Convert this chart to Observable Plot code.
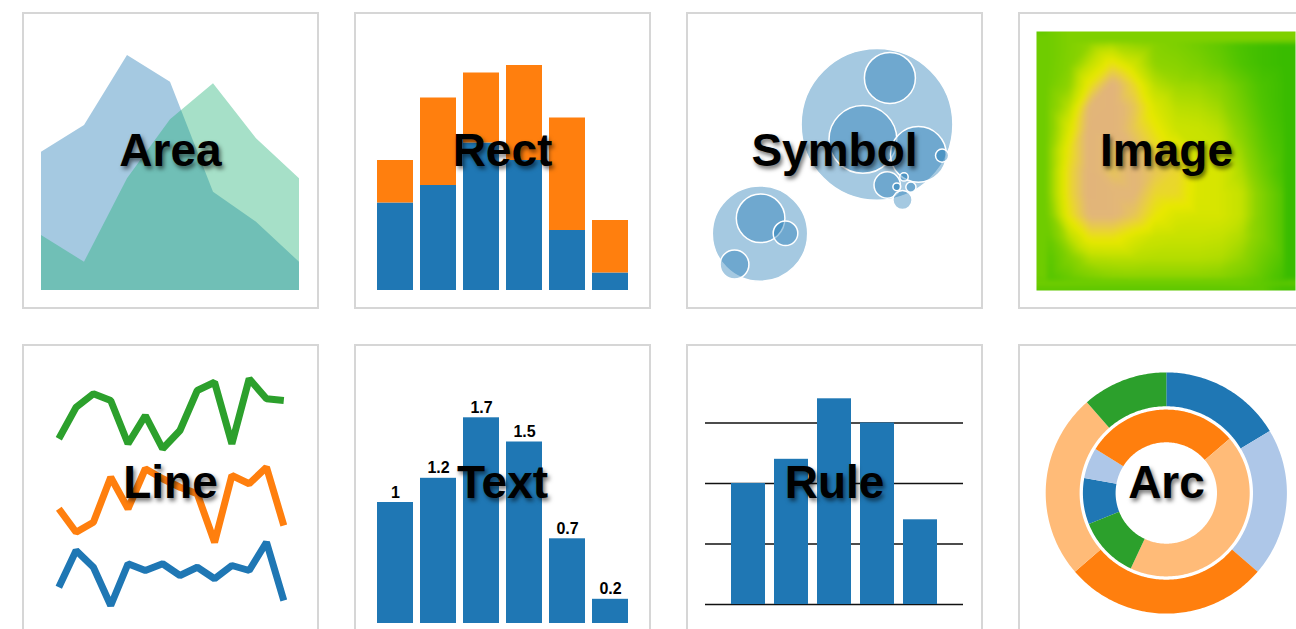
<!DOCTYPE html>
<html><head><meta charset="utf-8">
<script src="https://cdn.jsdelivr.net/npm/d3@7"></script>
<script src="https://cdn.jsdelivr.net/npm/@observablehq/plot@0.6"></script>
<style>
html,body{margin:0;padding:0;background:#fff;overflow:hidden;width:1296px;height:629px;}
#root{position:relative;width:1296px;height:629px;overflow:hidden;}
.box{position:absolute;width:297px;height:297px;box-sizing:border-box;border:2px solid #d6d6d6;}
.panel{position:absolute;width:297px;height:297px;}
.panel svg{display:block;max-width:none;background:transparent;}
.label{position:absolute;width:297px;text-align:center;font-family:"Liberation Sans",Arial,sans-serif;font-weight:bold;font-size:46px;line-height:46px;color:#000;text-shadow:2px 3px 4px rgba(0,0,0,0.55);white-space:nowrap;pointer-events:none;}
</style></head><body><div id="root"></div>
<script>
// ---------------- data ----------------
const panelLabels = ["Area", "Rect", "Symbol", "Image", "Line", "Text", "Rule", "Arc"];

const areaBlue  = [55.3, 66, 94, 83.3, 39.3, 27.3, 11.3];
const areaGreen = [22, 11.3, 44.7, 68.3, 82.7, 60.7, 44.7];

const rectSeries = ["first", "second"];
const rectBlue   = [35, 42, 59, 52, 24, 7];
const rectOrange = [17, 35, 28, 38, 45, 21];

const symbolX = [63.5, 24.5, 67.8, 58.8, 77.3, 85.2, 66.9, 72, 72.5, 74.8, 70.1, 24.7, 33, 16];
const symbolY = [62.7, 26.3, 78.2, 57.7, 52.7, 52.3, 42.5, 37.5, 45.2, 41.8, 41.9, 31.4, 26.4, 16];
const symbolSize = [25.3, 15.9, 8.5, 11.3, 9.3, 2.2, 4.4, 3.2, 1.4, 1.7, 1.3, 8.1, 4.1, 4.8];

const imageGrid = [
  [3, 3.5, 4, 4.3, 4, 3.7, 3.4, 3, 2.5, 1.8, 1.2, 0.8],
  [3, 3.6, 5, 6.3, 5.3, 4, 3.8, 3.4, 2.8, 2, 1.2, 0.8],
  [3.1, 4, 6.3, 8, 6.6, 4.8, 4.3, 4.2, 3.8, 2.8, 1.8, 1],
  [3.3, 4.8, 7.8, 8, 7.2, 5.6, 4.8, 4.7, 4.3, 3.2, 2, 1],
  [3.3, 5.6, 8, 8, 7.1, 6.1, 5.2, 5.1, 4.8, 3.7, 2.3, 1.2],
  [3.6, 6.2, 8, 7.2, 7.6, 6.6, 6.1, 5.2, 5.1, 4.2, 2.6, 1.5],
  [3.6, 6.5, 8, 7.2, 7.7, 7.1, 6.6, 5.6, 5.5, 4.6, 3, 1.5],
  [3.6, 6.5, 8, 7.8, 7.7, 6.6, 6.5, 5.6, 5.5, 5, 3.5, 2],
  [3.2, 6.2, 7.8, 7.8, 7.2, 6.1, 5.6, 5.5, 5.5, 5, 3.5, 2],
  [2.7, 4.8, 6.3, 6.3, 5.7, 5.2, 5.1, 5.1, 5, 4.6, 3.5, 2],
  [2.2, 3.6, 4.7, 4.8, 4.8, 4.7, 4.7, 4.7, 4.6, 4.1, 3, 2],
  [2, 2.7, 3.3, 3.7, 3.8, 3.8, 3.8, 3.8, 3.7, 3.2, 2.5, 1.5]
];
const imageColorStops = [0, 2, 4, 5, 6, 6.8, 7.6, 8];
const imageColors = ["#2ab600", "#4fc400", "#8fd400", "#c4e100", "#e8e800", "#e9d03e", "#e3b877", "#e2b47a"];

const lineGreen  = [72.7, 85.3, 90.7, 88, 70.7, 82, 68.7, 76, 92, 95.3, 70.7, 96.7, 88.7, 88];
const lineOrange = [44.7, 35.3, 39.3, 57.3, 44.7, 60.7, 56.7, 53.3, 50.7, 31.3, 58, 54.7, 61.3, 38];
const lineBlue   = [13.3, 28, 21.3, 6, 22.7, 20, 22.7, 18, 21.3, 16.7, 22, 20, 31.3, 8];

const textValues = [1, 1.2, 1.7, 1.5, 0.7, 0.2];

const ruleBars  = [1, 1.2, 1.7, 1.5, 0.7];
const ruleTicks = [0, 0.5, 1, 1.5];

const arcCats   = ["a", "b", "c", "d", "e"];
const arcColors = ["#1f77b4", "#aec7e8", "#ff7f0e", "#ffbb78", "#2ca02c"];
const arcOuter  = [33, 40, 55, 50, 23];
const arcInner  = [6, 4, 20, 29, 8];

// ---------------- layout ----------------
const cols = [22, 354, 686, 1018];
const rows = [12, 344];
const W = 297, H = 297;
const root = document.getElementById("root");
const font = "Liberation Sans, Arial, sans-serif";

function place(svg, idx) {
  const c = idx % 4, r = Math.floor(idx / 4);
  const box = document.createElement("div");
  box.className = "box";
  box.style.left = cols[c] + "px"; box.style.top = rows[r] + "px";
  root.appendChild(box);
  const p = document.createElement("div");
  p.className = "panel";
  p.style.left = cols[c] + "px"; p.style.top = rows[r] + "px";
  p.appendChild(svg);
  root.appendChild(p);
  const lab = document.createElement("div");
  lab.className = "label";
  lab.style.left = cols[c] + "px"; lab.style.top = (rows[r] + 115) + "px";
  lab.textContent = panelLabels[idx];
  root.appendChild(lab);
}
const base = {width: W, height: H, margin: 0, style: {background: "transparent"}};

// Area
place(Plot.plot({...base,
  x: {domain: [0, 6], range: [19, 277], axis: null},
  y: {domain: [0, 100], range: [278, 28], axis: null},
  marks: [
    Plot.areaY(areaBlue, {x: (d, i) => i, y: d => d, fill: "#1f77b4", fillOpacity: 0.4}),
    Plot.areaY(areaGreen, {x: (d, i) => i, y: d => d, fill: "#20b276", fillOpacity: 0.4})
  ]}), 0);

// Rect
const rectData = [
  ...rectBlue.map((v, i) => ({i, s: rectSeries[0], v})),
  ...rectOrange.map((v, i) => ({i, s: rectSeries[1], v}))
];
place(Plot.plot({...base,
  x: {type: "band", domain: d3.range(rectBlue.length), range: [22, 274], paddingInner: 0.1667, paddingOuter: 0, axis: null},
  y: {domain: [0, 100], range: [278, 28], axis: null},
  color: {type: "ordinal", domain: rectSeries, range: ["#1f77b4", "#ff7f0e"]},
  marks: [Plot.barY(rectData, {x: "i", y: "v", fill: "s"})]
}), 1);

// Symbol
place(Plot.plot({...base,
  x: {domain: [0, 100], range: [0, 300], axis: null},
  y: {domain: [0, 100], range: [300, 0], axis: null},
  r: {type: "linear", domain: [0, 100], range: [0, 300]},
  marks: [Plot.dot(symbolX, {x: d => d, y: (d, i) => symbolY[i], r: (d, i) => symbolSize[i],
    fill: "#1f77b4", fillOpacity: 0.4, stroke: "white", strokeWidth: 1.5})]
}), 2);

// Image
const imagePts = [];
imageGrid.forEach((row, j) => row.forEach((v, i) => imagePts.push({x: i + 0.5, y: j + 0.5, v})));
place(Plot.plot({width: W, height: H, marginLeft: 18, marginTop: 19, marginRight: 20, marginBottom: 19,
  style: {background: "transparent"},
  x: {domain: [0, 12], axis: null},
  y: {domain: [0, 12], reverse: true, axis: null},
  color: {type: "linear", domain: imageColorStops, range: imageColors, clamp: true},
  marks: [Plot.raster(imagePts, {x: "x", y: "y", fill: "v", x1: 0, x2: 12, y1: 0, y2: 12,
    interpolate: "barycentric", blur: 2})]
}), 3);

// Line
const lineOpts = {x: (d, i) => i, y: d => d, strokeWidth: 7, strokeLinejoin: "miter", strokeLinecap: "butt"};
place(Plot.plot({...base,
  x: {domain: [0, 13], range: [36.3, 261.3], axis: null},
  y: {domain: [0, 100], range: [276, 26], axis: null},
  marks: [
    Plot.lineY(lineGreen, {...lineOpts, stroke: "#2ca02c"}),
    Plot.lineY(lineOrange, {...lineOpts, stroke: "#ff7f0e"}),
    Plot.lineY(lineBlue, {...lineOpts, stroke: "#1f77b4"})
  ]}), 4);

// Text
place(Plot.plot({...base,
  x: {type: "band", domain: d3.range(textValues.length), range: [22, 274], paddingInner: 0.1667, paddingOuter: 0, axis: null},
  y: {domain: [0, 2], range: [279, 37], axis: null},
  marks: [
    Plot.barY(textValues, {x: (d, i) => i, y: d => d, fill: "#1f77b4"}),
    Plot.text(textValues, {x: (d, i) => i, y: d => d, text: d => String(d), dy: -5, lineAnchor: "bottom",
      fontSize: 16, fontWeight: "bold", fontFamily: font, fill: "black", stroke: "white", strokeWidth: 3})
  ]}), 5);

// Rule
place(Plot.plot({width: W, height: H, marginLeft: 19, marginRight: 20, marginTop: 0, marginBottom: 0,
  style: {background: "transparent"},
  x: {type: "band", domain: d3.range(ruleBars.length), range: [44, 251], paddingInner: 0.214, paddingOuter: 0, axis: null},
  y: {domain: [0, 2], range: [260, 18], axis: null},
  marks: [
    Plot.ruleY(ruleTicks, {y: d => d, stroke: "#111", strokeWidth: 1.5}),
    Plot.barY(ruleBars, {x: (d, i) => i, y: d => d, fill: "#1f77b4"})
  ]}), 6);

// Arc
function ringSlices(values, startDeg, rIn, rOut) {
  const total = d3.sum(values);
  let a = startDeg;
  return values.map((v, i) => {
    const a0 = a, a1 = a + v / total * 360; a = a1;
    const n = Math.max(2, Math.ceil(a1 - a0));
    const ts = d3.range(n + 1).map(j => a0 + (a1 - a0) * j / n);
    const coords = [
      ...ts.map(t => [180 - t, 90 - rOut]),
      ...ts.slice().reverse().map(t => [180 - t, 90 - rIn])
    ];
    coords.push(coords[0]);
    return {type: "Feature", properties: {cat: arcCats[i]}, geometry: {type: "Polygon", coordinates: [coords]}};
  });
}
// ring radii in degrees of the azimuthal projection (3 px per degree)
const arcFeatures = [...ringSlices(arcOuter, 0, 28.9, 40.2), ...ringSlices(arcInner, 248.2, 16.9, 27.8)];
const arcProj = d3.geoAzimuthalEquidistant().rotate([0, -90]).scale(3 * 180 / Math.PI).translate([147.8, 148.5]);
place(Plot.plot({...base,
  projection: arcProj,
  color: {domain: arcCats, range: arcColors},
  marks: [Plot.geo(arcFeatures, {fill: d => d.properties.cat})]
}), 7);
</script></body></html>
